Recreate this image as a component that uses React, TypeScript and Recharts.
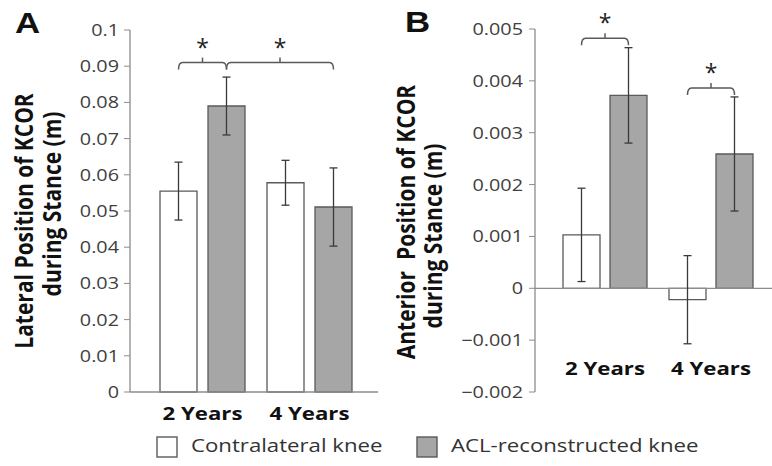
import React from 'react';
import { BarChart, Bar, XAxis, YAxis, ErrorBar, LabelList, ReferenceLine } from 'recharts';

const categories = ['2 Years', '4 Years'];
const seriesNames = ['Contralateral knee', 'ACL-reconstructed knee'];

// A: lateral position of KCOR (m)
const lateralContra = [0.0555, 0.0578];
const lateralContraSd = [0.008, 0.0062];
const lateralAcl = [0.079, 0.0511];
const lateralAclSd = [0.008, 0.0108];
const lateralTicks = [0, 0.01, 0.02, 0.03, 0.04, 0.05, 0.06, 0.07, 0.08, 0.09, 0.1];
const lateralSig = [
  { from: ['contra', 0], to: ['acl', 0], level: 0.091 },
  { from: ['acl', 0], to: ['acl', 1], level: 0.091 },
];

// B: anterior position of KCOR (m)
const anteriorContra = [0.00103, -0.00022];
const anteriorContraSd = [0.0009, 0.00085];
const anteriorAcl = [0.00372, 0.00259];
const anteriorAclSd = [0.00092, 0.0011];
const anteriorTicks = [-0.002, -0.001, 0, 0.001, 0.002, 0.003, 0.004, 0.005];
const anteriorSig = [
  { from: ['contra', 0], to: ['acl', 0], level: 0.00482 },
  { from: ['contra', 1], to: ['acl', 1], level: 0.00386 },
];

const FONT = "'Open Sans', sans-serif";
const SX = 1.2; // the figure is stretched sideways, text too
const CONTRA_FILL = '#ffffff';
const ACL_FILL = '#a6a6a6';
const EDGE = '#5a5a5a';
const AXIS = '#8c8c8c';
const ERR = '#3a3a3a';
const SLOT: Record<string, number> = { contra: 0, acl: 1 };

const toRows = (contra: number[], contraSd: number[], acl: number[], aclSd: number[]) =>
  categories.map((cat, i) => ({ cat, contra: contra[i], contraSd: contraSd[i], acl: acl[i], aclSd: aclSd[i] }));

const lateralData = toRows(lateralContra, lateralContraSd, lateralAcl, lateralAclSd);
const anteriorData = toRows(anteriorContra, anteriorContraSd, anteriorAcl, anteriorAclSd);

const fmt = (v: number) => (v === 0 ? '0' : (v < 0 ? '\u2212' : '') + String(+Math.abs(v).toFixed(4)));

const YTick = ({ x, y, payload }: any) => (
  <text transform={`translate(${x},${y}) scale(${SX},1)`} textAnchor="end" dy="0.36em"
    fontSize={16.5} fill="#404040" fontFamily={FONT}>
    {fmt(payload.value)}
  </text>
);

const xTick = (dy: number) => ({ x, y, payload }: any) => (
  <text transform={`translate(${x},${y + dy}) scale(${SX},1)`} textAnchor="middle"
    fontSize={18.5} fontWeight={700} fill="#111" fontFamily={FONT}>
    {payload.value}
  </text>
);

const yTitle = (lines: { text: string; x: number; y: number }[]) => () => (
  <g>
    {lines.map((l, i) => (
      <text key={i} transform={`translate(${l.x},${l.y}) scale(${SX},1) rotate(-90)`} textAnchor="middle"
        fontSize={21} fontWeight={700} fill="#111" fontFamily={FONT}>
        {l.text}
      </text>
    ))}
  </g>
);

// significance brackets, drawn from the right-hand (ACL) bar of each pair
const sigMarks = (sig: typeof lateralSig, band: number, gap: number) => (props: any) => {
  const vb = props.viewBox || props;
  const { index, value } = props;
  const own = sig.filter(s => s.to[0] === 'acl' && s.to[1] === index);
  if (!own.length || !value) return null;
  const cx = vb.x + vb.width / 2;
  const base = vb.y + vb.height;
  const k = vb.height / value;
  const centre = (end: any[]) =>
    cx + ((end[1] as number) - index) * band + (SLOT[end[0] as string] - SLOT.acl) * (vb.width + gap);
  return (
    <g>
      {own.map((s, n) => {
        const x1 = centre(s.from);
        const x2 = cx;
        const yb = base - s.level * k;
        const mid = (x1 + x2) / 2;
        return (
          <g key={n}>
            <path d={`M${x1},${yb + 7} Q${x1},${yb} ${x1 + 4},${yb} L${x2 - 4},${yb} Q${x2},${yb} ${x2},${yb + 7}`}
              stroke={EDGE} strokeWidth={1.5} fill="none" />
            <path d={`M${mid},${yb} L${mid},${yb - 5}`} stroke={EDGE} strokeWidth={1.5} />
            <text x={mid} y={yb - 7} textAnchor="middle" fontSize={23} fill="#222" fontFamily={FONT}>*</text>
          </g>
        );
      })}
    </g>
  );
};

const BAND_A = 107;
const BAND_B = 106;

export default function App() {
  return (
    <div style={{ position: 'absolute', left: 0, top: 0, width: 772, height: 466, background: '#fff', fontFamily: FONT }}>
      <div style={{ position: 'absolute', left: 0, top: 0 }}>
        <BarChart width={380} height={466} data={lateralData} margin={{ top: 30, right: 2, bottom: 44, left: 0 }}
          barSize={37} barGap={11}>
          <XAxis dataKey="cat" height={30} padding={{ left: 19, right: 380 - 2 - 130 - 19 - 2 * BAND_A }}
            tickLine={false} tickSize={0} tickMargin={0} axisLine={{ stroke: AXIS, strokeWidth: 1.3 }}
            tick={xTick(28)} interval={0} />
          <YAxis width={130} type="number" domain={[0, 0.1]} ticks={lateralTicks} interval={0}
            tickSize={6} tickMargin={5} tickLine={{ stroke: AXIS }} axisLine={{ stroke: AXIS, strokeWidth: 1.3 }}
            tick={YTick}
            label={yTitle([
              { text: 'Lateral Position of KCOR', x: 33, y: 221 },
              { text: 'during Stance (m)', x: 61, y: 204 },
            ])} />
          <Bar dataKey="contra" name={seriesNames[0]} fill={CONTRA_FILL} stroke={EDGE} strokeWidth={1.3} isAnimationActive={false}>
            <ErrorBar dataKey="contraSd" width={4} stroke={ERR} strokeWidth={1.3} />
          </Bar>
          <Bar dataKey="acl" name={seriesNames[1]} fill={ACL_FILL} stroke={EDGE} strokeWidth={1.3} isAnimationActive={false}>
            <ErrorBar dataKey="aclSd" width={4} stroke={ERR} strokeWidth={1.3} />
            <LabelList dataKey="acl" content={sigMarks(lateralSig, BAND_A, 11)} />
          </Bar>
        </BarChart>
      </div>

      <div style={{ position: 'absolute', left: 380, top: 0 }}>
        <BarChart width={392} height={466} data={anteriorData} margin={{ top: 29, right: 0, bottom: 44, left: 0 }}
          barSize={37} barGap={10}>
          <XAxis dataKey="cat" height={30} padding={{ left: 17, right: 392 - 155 - 17 - 2 * BAND_B }}
            axisLine={false} tickLine={false} tickSize={0} tickMargin={0} tick={xTick(-17)} interval={0} />
          <YAxis width={155} type="number" domain={[-0.002, 0.005]} ticks={anteriorTicks} interval={0}
            tickSize={6} tickMargin={6} tickLine={{ stroke: AXIS }} axisLine={{ stroke: AXIS, strokeWidth: 1.3 }}
            tick={YTick}
            label={yTitle([
              { text: 'Anterior\u00a0 Position of KCOR', x: 35, y: 222 },
              { text: 'during Stance (m)', x: 62, y: 236 },
            ])} />
          <ReferenceLine y={0} stroke={AXIS} strokeWidth={1.3} />
          <Bar dataKey="contra" name={seriesNames[0]} fill={CONTRA_FILL} stroke={EDGE} strokeWidth={1.3} isAnimationActive={false}>
            <ErrorBar dataKey="contraSd" width={4} stroke={ERR} strokeWidth={1.3} />
          </Bar>
          <Bar dataKey="acl" name={seriesNames[1]} fill={ACL_FILL} stroke={EDGE} strokeWidth={1.3} isAnimationActive={false}>
            <ErrorBar dataKey="aclSd" width={4} stroke={ERR} strokeWidth={1.3} />
            <LabelList dataKey="acl" content={sigMarks(anteriorSig, BAND_B, 10)} />
          </Bar>
        </BarChart>
      </div>

      <svg width={772} height={466} style={{ position: 'absolute', left: 0, top: 0, pointerEvents: 'none' }}>
        <text transform={`translate(15,33) scale(${SX},1)`} fontSize={29} fontWeight={700} fill="#111"
          fontFamily="'Liberation Sans', Arial, sans-serif">A</text>
        <text transform={`translate(405,32) scale(${SX},1)`} fontSize={29} fontWeight={700} fill="#111"
          fontFamily="'Liberation Sans', Arial, sans-serif">B</text>
        {seriesNames.map((name, i) => {
          const left = [157, 417][i];
          return (
            <g key={name}>
              <rect x={left} y={437} width={20} height={20} fill={i === 0 ? CONTRA_FILL : ACL_FILL} stroke={EDGE} strokeWidth={1.4} />
              <text transform={`translate(${left + 34},452) scale(${SX},1)`} fontSize={18.5} fill="#333" fontFamily={FONT}>{name}</text>
            </g>
          );
        })}
      </svg>
    </div>
  );
}
